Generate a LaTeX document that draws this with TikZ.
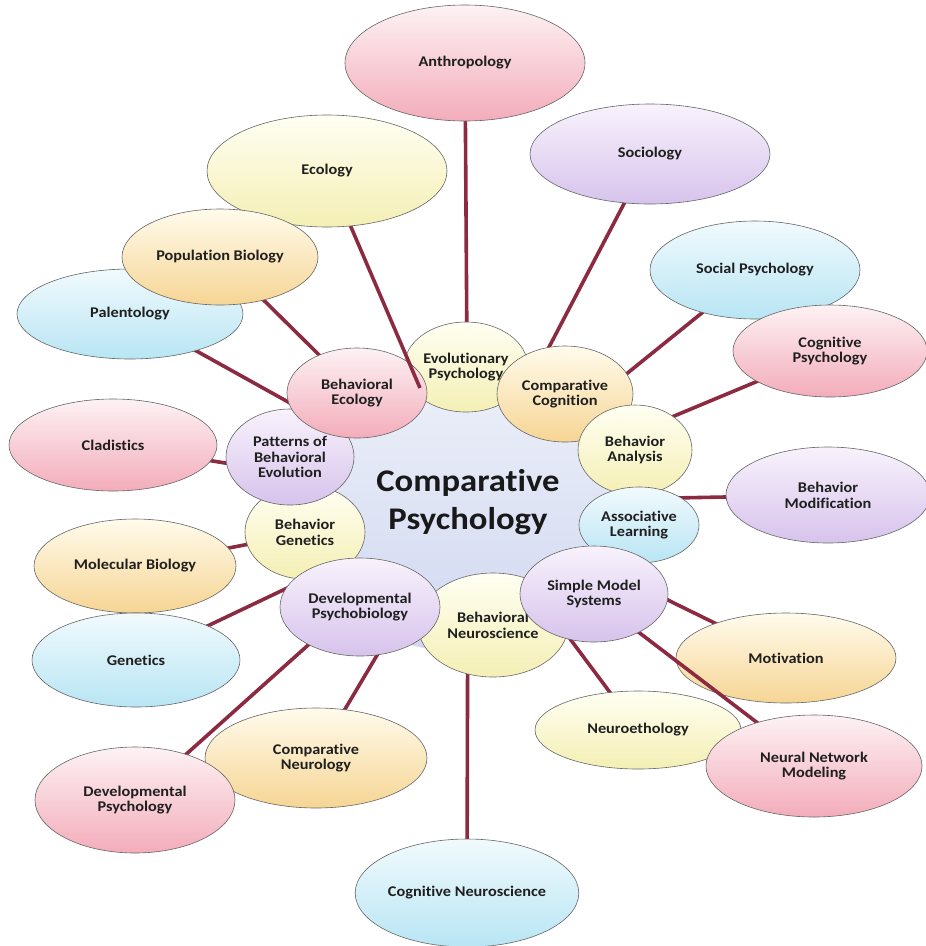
\documentclass[tikz,border=0pt]{standalone}
\usepackage{fontspec}
\setmainfont{Carlito}[FakeStretch=1.1, Ligatures=CommonOff]
\usetikzlibrary{shapes.geometric}

\definecolor{pinkT}{HTML}{FDF2F4}
\definecolor{pinkB}{HTML}{F3ACBA}
\definecolor{lavT}{HTML}{F8F2FC}
\definecolor{lavB}{HTML}{D7C3EC}
\definecolor{yelT}{HTML}{FFFFF3}
\definecolor{yelB}{HTML}{F4EFB4}
\definecolor{orT}{HTML}{FFFBEC}
\definecolor{orB}{HTML}{F6D594}
\definecolor{cyT}{HTML}{F1FAFD}
\definecolor{cyB}{HTML}{B8E5F4}
\definecolor{hubT}{HTML}{EFF2FA}
\definecolor{hubB}{HTML}{D0D7F0}
\definecolor{linkred}{RGB}{139,42,64}

% drawing order, bottom to top
\pgfdeclarelayer{paper}
\pgfdeclarelayer{links}
\pgfdeclarelayer{lowbubble}
\pgfdeclarelayer{lowlink}
\pgfdeclarelayer{overlink}
\pgfdeclarelayer{outer}
\pgfsetlayers{paper,links,lowbubble,lowlink,main,overlink,outer}

\tikzset{
  bubble/.style={ellipse, draw=black!60, line width=0.6pt, inner sep=0pt,
    align=center, text=black!88,
    font=\bfseries\fontsize{14.8}{15.8}\selectfont},
  sz/.style 2 args={minimum width=#1pt, minimum height=#2pt},
  pink/.style={top color=pinkT, bottom color=pinkB},
  lav/.style={top color=lavT, bottom color=lavB},
  yel/.style={top color=yelT, bottom color=yelB},
  ora/.style={top color=orT, bottom color=orB},
  cya/.style={top color=cyT, bottom color=cyB},
  link/.style={draw=linkred, line width=3.6pt},
}

\begin{document}
\begin{tikzpicture}[x=1pt, y=-1pt]
  \begin{pgfonlayer}{paper}
    \fill[white] (0,0) rectangle (926,946);
  \end{pgfonlayer}
  \useasboundingbox (0,0) rectangle (926,946);

  % central topic
  \node[ellipse, sz={380}{300}, inner sep=0pt, top color=hubT, bottom color=hubB,
        align=center, text=black!90, font=\bfseries\fontsize{31.5}{38}\selectfont]
        (hub) at (468,502) {Comparative\\Psychology};

  % inner ring of subfields
  \node[bubble, yel, sz={124}{90}]  (evo) at (466,367) {Evolutionary\\Psychology};
  \node[bubble, ora, sz={136}{96}]  (cc)  at (565,394) {Comparative\\Cognition};
  \node[bubble, yel, sz={114}{90}]  (ba)  at (635,450) {Behavior\\Analysis};
  \node[bubble, cya, sz={120}{76}]  (al)  at (639,525) {Associative\\Learning};
  \node[bubble, yel, sz={150}{104}] (bn)  at (493,625) {Behavioral\\Neuroscience};
  \node[bubble, lav, sz={148}{96}]  (sms) at (594,594) {Simple Model\\Systems};
  \node[bubble, yel, sz={120}{94}]  (bg)  at (305,532) {Behavior\\Genetics};
  \node[bubble, lav, sz={160}{98}]  (dp)  at (360,607) {Developmental\\Psychobiology};
  \node[bubble, lav, sz={128}{96}]  (pbe) at (290,457) {Patterns of\\Behavioral\\Evolution};
  \node[bubble, pink, sz={140}{90}] (be)  at (357,393) {Behavioral\\Ecology};

  % Motivation sits under the neural-network spoke
  \begin{pgfonlayer}{lowbubble}
    \node[bubble, ora,  sz={220}{90}]  (mot)  at (786,658) {Motivation};
  \end{pgfonlayer}

  % neighbouring disciplines
  \begin{pgfonlayer}{outer}
    \node[bubble, pink, sz={240}{116}] (anth) at (465,63)  {Anthropology};
    \node[bubble, lav,  sz={240}{100}] (soc)  at (650,154) {Sociology};
    \node[bubble, yel,  sz={240}{112}] (eco)  at (327,171) {Ecology};
    \node[bubble, cya,  sz={226}{90}]  (pal)  at (130,314) {Palentology};
    \node[bubble, ora,  sz={196}{96}]  (pop)  at (220,257) {Population Biology};
    \node[bubble, cya,  sz={210}{98}]  (sp)   at (755,270) {Social Psychology};
    \node[bubble, pink, sz={194}{92}]  (cog)  at (830,351) {Cognitive\\Psychology};
    \node[bubble, pink, sz={208}{92}]  (cla)  at (113,445) {Cladistics};
    \node[bubble, lav,  sz={204}{96}]  (bm)   at (828,495) {Behavior\\Modification};
    \node[bubble, ora,  sz={202}{94}]  (mol)  at (135,566) {Molecular Biology};
    \node[bubble, cya,  sz={208}{94}]  (gen)  at (136,660) {Genetics};
    \node[bubble, yel,  sz={206}{78}]  (neth) at (638,730) {Neuroethology};
    \node[bubble, pink, sz={216}{102}] (nnm)  at (814,766) {Neural Network\\Modeling};
    \node[bubble, ora,  sz={222}{100}] (cn)   at (316,758) {Comparative\\Neurology};
    \node[bubble, pink, sz={200}{106}] (dps)  at (135,800) {Developmental\\Psychology};
    \node[bubble, cya,  sz={196}{108}] (cns)  at (467,893) {Cognitive Neuroscience};
  \end{pgfonlayer}

  % spokes toward the central topic
  \begin{pgfonlayer}{links}
    \foreach \n in {anth,soc,pal,pop,sp,cog,cla,bm,mol,gen,mot,neth,cn,dps,cns}
      \draw[link] (\n.center) -- (hub.center);
  \end{pgfonlayer}
  \begin{pgfonlayer}{lowlink}
    \draw[link] (nnm.center) -- (hub.center);
  \end{pgfonlayer}

  % the ecology spoke runs over the inner ring
  \coordinate (ecoend) at (420,388);
  \begin{pgfonlayer}{overlink}
    \draw[link] (eco.center) -- (ecoend);
  \end{pgfonlayer}
\end{tikzpicture}
\end{document}
